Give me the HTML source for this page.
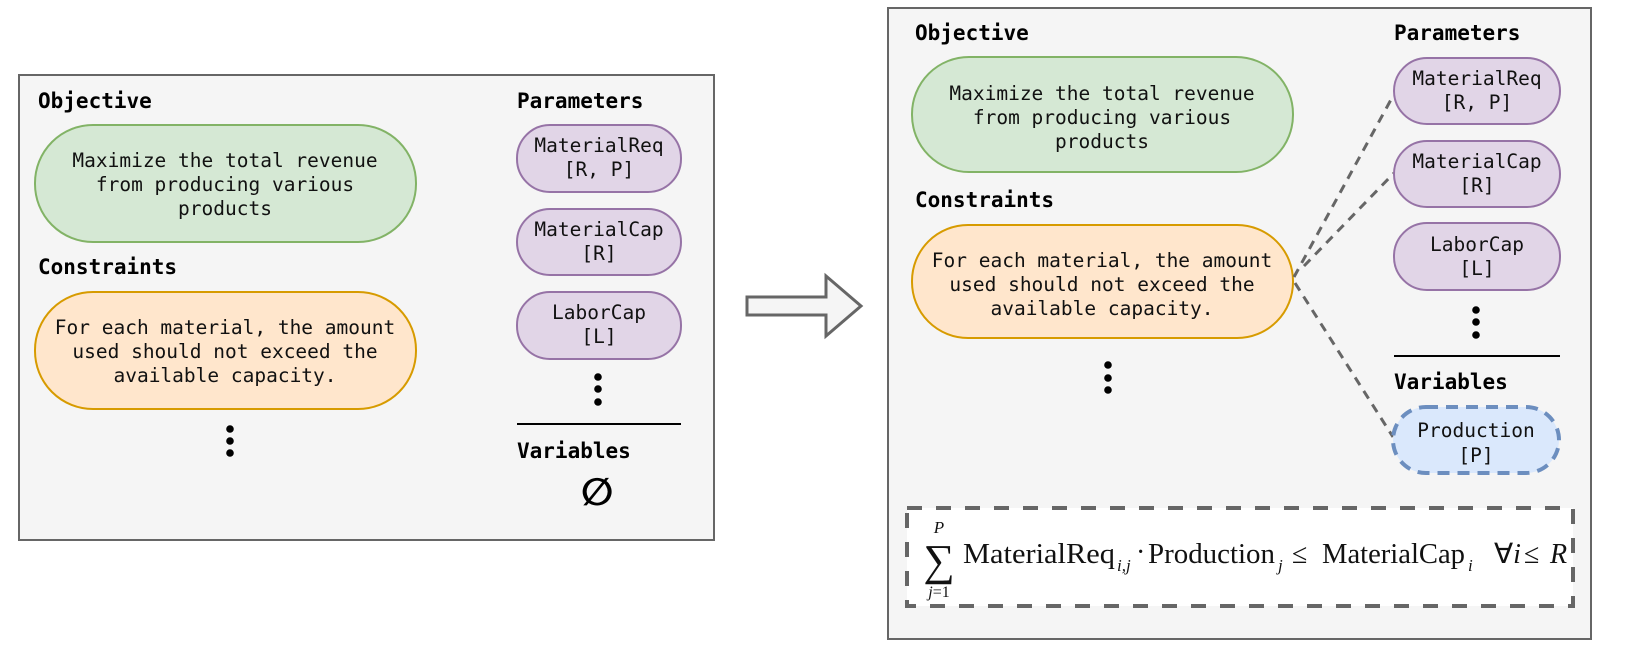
<!DOCTYPE html>
<html><head><meta charset="utf-8"><style>
html,body{margin:0;padding:0;background:#fff;}
svg{display:block;}
.t{font-family:"DejaVu Sans Mono","Liberation Mono",monospace;font-size:19.5px;fill:#111;}
.b{font-family:"DejaVu Sans Mono","Liberation Mono",monospace;font-size:21px;font-weight:bold;fill:#000;}
.m{font-family:"Liberation Serif",serif;fill:#111;}
</style></head><body>
<svg width="1627" height="647" viewBox="0 0 1627 647" xmlns="http://www.w3.org/2000/svg">
<!-- Left panel -->
<rect x="19" y="75" width="695" height="465" fill="#f5f5f5" stroke="#666" stroke-width="2"/>
<text class="b" x="38" y="108">Objective</text>
<rect x="35" y="125" width="381" height="117" rx="58" fill="#d5e8d4" stroke="#82b366" stroke-width="2"/>
<text class="t" x="225" y="167" text-anchor="middle">Maximize the total revenue</text>
<text class="t" x="225" y="191" text-anchor="middle">from producing various</text>
<text class="t" x="225" y="215" text-anchor="middle">products</text>
<text class="b" x="38" y="274">Constraints</text>
<rect x="35" y="292" width="381" height="117" rx="58" fill="#ffe6cc" stroke="#d79b00" stroke-width="2"/>
<text class="t" x="225" y="334" text-anchor="middle">For each material, the amount</text>
<text class="t" x="225" y="358" text-anchor="middle">used should not exceed the</text>
<text class="t" x="225" y="382" text-anchor="middle">available capacity.</text>
<circle cx="230" cy="429" r="3.8" fill="#000"/><circle cx="230" cy="441" r="3.8" fill="#000"/><circle cx="230" cy="453" r="3.8" fill="#000"/>
<text class="b" x="517" y="108">Parameters</text>
<rect x="517" y="125" width="164" height="67" rx="33" fill="#e1d5e7" stroke="#9673a6" stroke-width="2"/>
<text class="t" x="599" y="152" text-anchor="middle">MaterialReq</text>
<text class="t" x="599" y="176" text-anchor="middle">[R, P]</text>
<rect x="517" y="209" width="164" height="66" rx="33" fill="#e1d5e7" stroke="#9673a6" stroke-width="2"/>
<text class="t" x="599" y="236" text-anchor="middle">MaterialCap</text>
<text class="t" x="599" y="260" text-anchor="middle">[R]</text>
<rect x="517" y="292" width="164" height="67" rx="33" fill="#e1d5e7" stroke="#9673a6" stroke-width="2"/>
<text class="t" x="599" y="319" text-anchor="middle">LaborCap</text>
<text class="t" x="599" y="343" text-anchor="middle">[L]</text>
<circle cx="598" cy="377" r="3.8" fill="#000"/><circle cx="598" cy="389" r="3.8" fill="#000"/><circle cx="598" cy="402" r="3.8" fill="#000"/>
<line x1="517" y1="424" x2="681" y2="424" stroke="#000" stroke-width="2"/>
<text class="b" x="517" y="458">Variables</text>
<text x="597" y="505" text-anchor="middle" font-family="DejaVu Sans, sans-serif" font-size="38" font-weight="bold" fill="#000">∅</text>

<!-- Arrow -->
<polygon points="747,297 826,297 826,276 861,306 826,336 826,315 747,315" fill="#f5f5f5" stroke="#666" stroke-width="3"/>

<!-- Right panel -->
<rect x="888" y="8" width="703" height="631" fill="#f5f5f5" stroke="#666" stroke-width="2"/>
<text class="b" x="915" y="40">Objective</text>
<rect x="912" y="57" width="381" height="115" rx="57" fill="#d5e8d4" stroke="#82b366" stroke-width="2"/>
<text class="t" x="1102" y="100" text-anchor="middle">Maximize the total revenue</text>
<text class="t" x="1102" y="124" text-anchor="middle">from producing various</text>
<text class="t" x="1102" y="148" text-anchor="middle">products</text>
<text class="b" x="915" y="207">Constraints</text>
<rect x="912" y="225" width="381" height="113" rx="56" fill="#ffe6cc" stroke="#d79b00" stroke-width="2"/>
<text class="t" x="1102" y="267" text-anchor="middle">For each material, the amount</text>
<text class="t" x="1102" y="291" text-anchor="middle">used should not exceed the</text>
<text class="t" x="1102" y="315" text-anchor="middle">available capacity.</text>
<circle cx="1108" cy="365" r="3.8" fill="#000"/><circle cx="1108" cy="378" r="3.8" fill="#000"/><circle cx="1108" cy="390" r="3.8" fill="#000"/>

<line x1="1294" y1="277" x2="1393" y2="96" stroke="#666" stroke-width="3" stroke-dasharray="9,7"/>
<line x1="1304" y1="266" x2="1394" y2="173" stroke="#666" stroke-width="3" stroke-dasharray="9,7"/>
<line x1="1295" y1="283" x2="1393" y2="437" stroke="#666" stroke-width="3" stroke-dasharray="9,7"/>

<text class="b" x="1394" y="40">Parameters</text>
<rect x="1394" y="58" width="166" height="66" rx="33" fill="#e1d5e7" stroke="#9673a6" stroke-width="2"/>
<text class="t" x="1477" y="85" text-anchor="middle">MaterialReq</text>
<text class="t" x="1477" y="109" text-anchor="middle">[R, P]</text>
<rect x="1394" y="141" width="166" height="66" rx="33" fill="#e1d5e7" stroke="#9673a6" stroke-width="2"/>
<text class="t" x="1477" y="168" text-anchor="middle">MaterialCap</text>
<text class="t" x="1477" y="192" text-anchor="middle">[R]</text>
<rect x="1394" y="223" width="166" height="67" rx="33" fill="#e1d5e7" stroke="#9673a6" stroke-width="2"/>
<text class="t" x="1477" y="251" text-anchor="middle">LaborCap</text>
<text class="t" x="1477" y="275" text-anchor="middle">[L]</text>
<circle cx="1476" cy="310" r="3.8" fill="#000"/><circle cx="1476" cy="322" r="3.8" fill="#000"/><circle cx="1476" cy="335" r="3.8" fill="#000"/>
<line x1="1394" y1="356" x2="1560" y2="356" stroke="#000" stroke-width="2"/>
<text class="b" x="1394" y="389">Variables</text>
<rect x="1393" y="407" width="166" height="66" rx="33" fill="#dae8fc" stroke="#6c8ebf" stroke-width="4" stroke-dasharray="12,8"/>
<text class="t" x="1476" y="437" text-anchor="middle">Production</text>
<text class="t" x="1476" y="462" text-anchor="middle">[P]</text>

<!-- Formula box -->
<rect x="907" y="508" width="666" height="98" fill="#fff" stroke="#666" stroke-width="4" stroke-dasharray="15,14"/>
<text class="m" x="939" y="533" font-size="17" font-style="italic" text-anchor="middle">P</text>
<text class="m" x="939" y="575" font-size="44" text-anchor="middle">∑</text>
<text class="m" x="939" y="597" font-size="16" text-anchor="middle"><tspan font-style="italic">j</tspan>=1</text>
<text class="m" x="963" y="563" font-size="28" textLength="152" lengthAdjust="spacingAndGlyphs">MaterialReq</text>
<text class="m" x="1117" y="571" font-size="17" font-style="italic">i,j</text>
<text class="m" x="1136" y="561" font-size="28">·</text>
<text class="m" x="1148" y="563" font-size="28" textLength="127" lengthAdjust="spacingAndGlyphs">Production</text>
<text class="m" x="1278" y="571" font-size="17" font-style="italic">j</text>
<text class="m" x="1292" y="563" font-size="28">≤</text>
<text class="m" x="1322" y="563" font-size="28" textLength="143" lengthAdjust="spacingAndGlyphs">MaterialCap</text>
<text class="m" x="1468" y="571" font-size="17" font-style="italic">i</text>
<text class="m" x="1494" y="563" font-size="28">∀<tspan font-style="italic">i</tspan></text>
<text class="m" x="1524" y="563" font-size="28">≤</text>
<text class="m" x="1550" y="563" font-size="28" font-style="italic">R</text>
</svg>
</body></html>
